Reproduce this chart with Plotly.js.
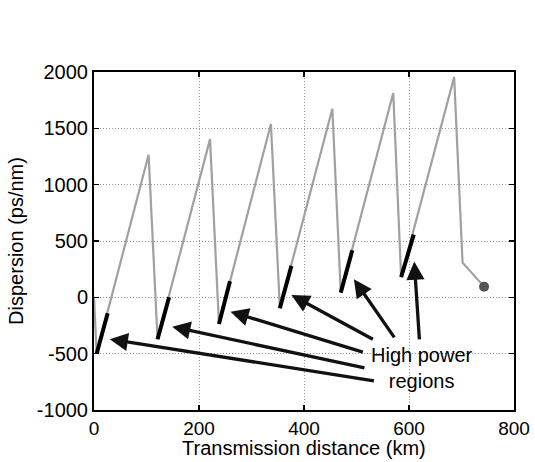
<!DOCTYPE html>
<html>
<head>
<meta charset="utf-8">
<script src="https://cdn.plot.ly/plotly-3.0.1.min.js"></script>
<style>html,body{margin:0;padding:0;background:#fff;}#chart{width:535px;height:462px;}</style>
</head>
<body>
<div id="chart"></div>
<script>
// Full dispersion map (km, ps/nm)
const distance = [0, 5, 104, 121, 221, 238, 337, 354, 454, 470, 570, 585, 686, 702, 743];
const dispersion = [0, -500, 1265, -372, 1404, -236, 1538, -97, 1674, 42, 1813, 179, 1955, 308, 95];

// High power regions (start/end of each black segment)
const hpStartKm = [5, 121, 238, 354, 470, 585];
const hpEndKm = [26, 143, 259, 376, 492, 609];
const hpStartDisp = [-500, -372, -236, -97, 42, 179];
const hpEndDisp = [-141, 0, 143, 279, 418, 557];

// Arrows: heads and tails in data coordinates
const arrowHeadX = [30, 149, 260, 376, 495, 610];
const arrowHeadY = [-372, -260, -127, 21, 161, 317];
const arrowTailX = [536, 518, 515, 534, 574, 620];
const arrowTailY = [-743, -630, -491, -379, -369, -387];

// Tick labels
const xTickVals = [0, 200, 400, 600, 800];
const xTickLabels = ['0', '200', '400', '600', '800'];
const yTickVals = [-1000, -500, 0, 500, 1000, 1500, 2000];
const yTickLabels = ['-1000', '-500', '0', '500', '1000', '1500', '2000'];

const labelText = 'High power<br>regions';
const labelX = 625;
const labelY = -625;

const xTitle = 'Transmission distance (km)';
const yTitle = 'Dispersion (ps/nm)';

const hpX = [], hpY = [];
for (let i = 0; i < hpStartKm.length; i++) {
  hpX.push(hpStartKm[i], hpEndKm[i], null);
  hpY.push(hpStartDisp[i], hpEndDisp[i], null);
}

const FONT = 'Liberation Sans, Arial, Helvetica, sans-serif';
const FS = 20;

const traces = [
  {x: distance, y: dispersion, mode: 'lines', line: {color: '#a0a0a0', width: 2.2}, hoverinfo: 'skip'},
  {x: hpX, y: hpY, mode: 'lines', line: {color: '#000000', width: 4}, connectgaps: false, hoverinfo: 'skip'},
  {x: [distance[distance.length - 1]], y: [dispersion[dispersion.length - 1]], mode: 'markers',
   marker: {color: '#555555', size: 10}, hoverinfo: 'skip'}
];

const annotations = [];
for (let i = 0; i < arrowHeadX.length; i++) {
  annotations.push({
    x: arrowHeadX[i], y: arrowHeadY[i], xref: 'x', yref: 'y',
    ax: arrowTailX[i], ay: arrowTailY[i], axref: 'x', ayref: 'y',
    text: '', showarrow: true, arrowhead: 2, arrowsize: 1.1, arrowwidth: 3.3,
    arrowcolor: '#111111', standoff: 0, startstandoff: 0
  });
}
annotations.push({
  x: labelX, y: labelY, xref: 'x', yref: 'y', text: labelText, showarrow: false,
  font: {family: FONT, size: FS, color: '#000'}, align: 'center', bgcolor: 'rgba(0,0,0,0)'
});
annotations.push({
  x: 0.5, y: -0.113, xref: 'paper', yref: 'paper', text: xTitle, showarrow: false,
  xanchor: 'center', yanchor: 'middle', font: {family: FONT, size: FS, color: '#000'}
});

const axisCommon = {
  showline: true, linecolor: '#000', linewidth: 2, mirror: 'ticks',
  ticks: 'inside', ticklen: 5, tickwidth: 1.5, tickcolor: '#000',
  showgrid: true, gridcolor: '#999999', gridwidth: 1, griddash: '1px,2px',
  zeroline: false, tickmode: 'array'
};

const layout = {
  width: 535, height: 462,
  margin: {l: 94, r: 21, t: 72, b: 52, autoexpand: false},
  paper_bgcolor: '#fff', plot_bgcolor: '#fff',
  showlegend: false,
  font: {family: FONT, size: FS, color: '#000'},
  xaxis: Object.assign({}, axisCommon, {
    range: [0, 800], tickvals: xTickVals, ticktext: xTickLabels,
    tickfont: {family: FONT, size: 19, color: '#000'}
  }),
  yaxis: Object.assign({}, axisCommon, {
    range: [-1000, 2000], tickvals: yTickVals, ticktext: yTickLabels,
    tickfont: {family: FONT, size: FS, color: '#000'},
    title: {text: yTitle, font: {family: FONT, size: FS, color: '#000'}, standoff: 8}
  }),
  annotations: annotations
};

Plotly.newPlot('chart', traces, layout, {staticPlot: true, displayModeBar: false});
</script>
</body>
</html>
